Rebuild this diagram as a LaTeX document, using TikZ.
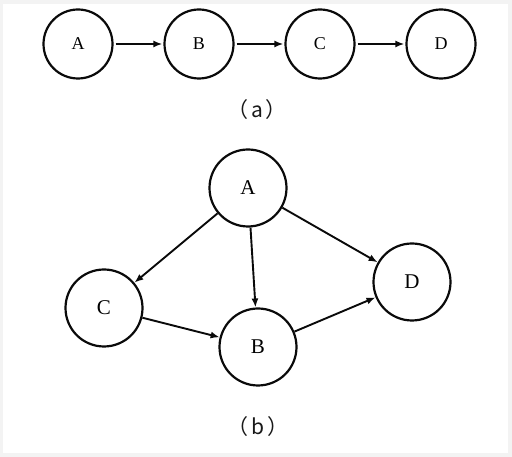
\documentclass[tikz,border=0pt]{standalone}
\usepackage{fontspec}
\setmainfont{Liberation Serif}
\newfontfamily\cjkfont{Noto Sans CJK SC}
\usetikzlibrary{arrows.meta,positioning}
\definecolor{frmgray}{HTML}{F3F3F3}
\definecolor{inkdark}{HTML}{0A0A0A}
\tikzset{
  state/.style={circle,draw=inkdark,line width=2.2pt,inner sep=0pt},
  small/.style={state,minimum size=69pt,font=\fontsize{18}{18}\selectfont},
  big/.style={state,minimum size=77pt,font=\fontsize{21}{21}\selectfont},
  ar/.style={-{Latex[length=9pt,width=7pt]},draw=inkdark,line width=1.9pt},
  sublabel/.style={font=\cjkfont\fontsize{21}{21}\selectfont,text=black!90},
}

\begin{document}
\begin{tikzpicture}[x=1pt,y=1pt]
  \useasboundingbox (0,0) rectangle (512,457);
  \fill[frmgray] (0,0) rectangle (512,457);
  \fill[white] (3,4) rectangle (508,453);
  % (a) chain
  \foreach \n/\x in {A/78,B/199,C/320,D/441}{
    \node[small](a\n) at (\x,413){\n};}
  \foreach \s/\t in {A/B,B/C,C/D}{
    \draw[ar,shorten <=2pt,shorten >=1pt] (a\s)--(a\t);}
  \node[sublabel](capa) at (257,347){（\hspace{3pt}a\hspace{3pt}）};
  % (b) graph
  \node[big](bA) at (248,269){A};
  \node[big](bC) at (104,149){C};
  \node[big](bB) at (258,110){B};
  \node[big](bD) at (412,175){D};
  \draw[ar] (bA)--(bC);
  \draw[ar] (bA)--(bB);
  \draw[ar] (bA)--(bD);
  \draw[ar] (bC)--(bB);
  \draw[ar] (bB)--(bD);
  \node[sublabel](capb) at (258,30){（\hspace{3pt}b\hspace{3pt}）};
\end{tikzpicture}
\end{document}
